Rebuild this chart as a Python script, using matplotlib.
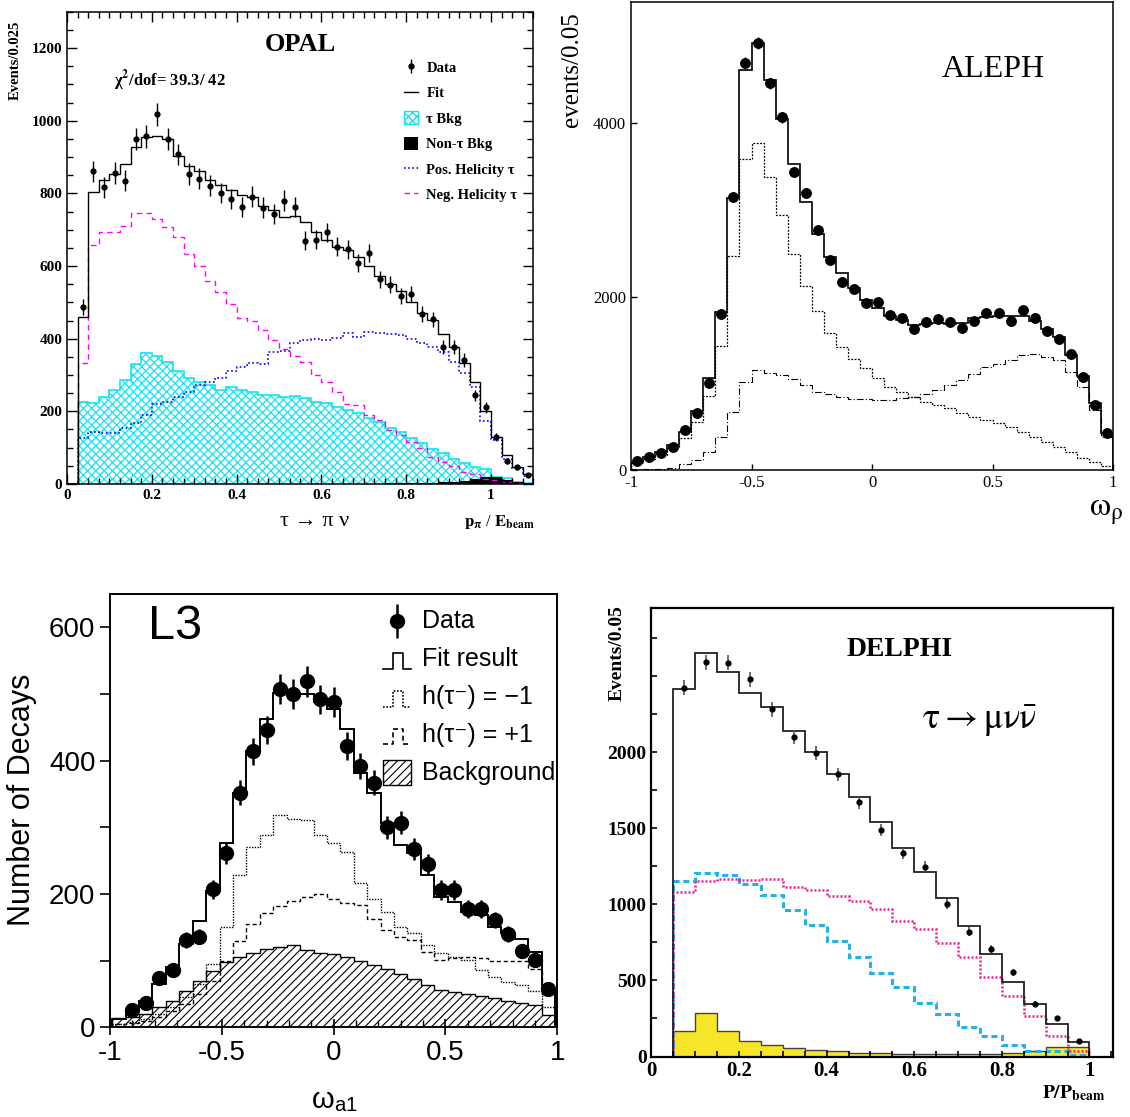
"""Four-panel tau polarisation summary: OPAL, ALEPH, L3 and DELPHI spectra."""
import numpy as np
import matplotlib

matplotlib.use("Agg")
import matplotlib.pyplot as plt  # noqa: E402
from matplotlib.lines import Line2D  # noqa: E402
from matplotlib.patches import Patch, Rectangle  # noqa: E402
from matplotlib.ticker import MultipleLocator  # noqa: E402

SERIF = ["Liberation Serif", "DejaVu Serif"]
SANS = ["Liberation Sans", "DejaVu Sans"]
plt.rcParams["font.family"] = SERIF
plt.rcParams["mathtext.fontset"] = "stix"
plt.rcParams["axes.unicode_minus"] = False

# ---- OPAL: tau -> pi nu, 44 bins of 0.025 in p_pi/E_beam (0 .. 1.1)
opal_fit = [0, 460, 803, 837, 852, 880, 928, 954, 958, 950, 903, 875, 862, 838, 822,
            810, 795, 790, 765, 755, 735, 738, 722, 694, 672, 653, 644, 624, 600, 572,
            550, 532, 502, 471, 451, 413, 378, 332, 281, 202, 130, 79, 48, 28]
opal_pos = [0, 126, 144, 140, 141, 153, 167, 190, 220, 227, 240, 254, 272, 282, 291,
            312, 323, 334, 329, 364, 367, 387, 395, 398, 396, 401, 415, 404, 419, 415,
            412, 410, 398, 387, 378, 364, 337, 305, 268, 174, 121, 68, 43, 22]
opal_neg = [0, 332, 658, 694, 694, 710, 745, 745, 729, 708, 681, 632, 600, 560, 528,
            495, 458, 450, 424, 395, 371, 352, 337, 300, 282, 254, 220, 217, 190, 176,
            149, 135, 116, 98, 75, 61, 50, 34, 28, 15, 11, 5, 3, 1]
opal_tau_bkg = [0, 227, 222, 240, 259, 286, 329, 360, 352, 337, 312, 291, 282, 272, 260,
                268, 260, 254, 245, 245, 240, 242, 236, 227, 222, 213, 204, 195, 181, 172,
                153, 144, 126, 114, 95, 84, 68, 57, 46, 40, 20, 16, 6, 3]
opal_nontau = [4, 0, 0, 0, 0, 0, 0, 0, 0, 0, 0, 0, 0, 0, 0, 0, 0, 0, 0, 0, 0, 0,
               0, 0, 0, 0, 0, 0, 0, 1, 2, 2, 3, 3, 4, 5, 6, 9, 14, 20, 18, 10, 5, 3]
opal_data = [487, 861, 817, 856, 835, 950, 957, 1018, 950, 907, 853, 840, 821, 801, 784,
             762, 791, 761, 744, 780, 762, 670, 672, 693, 653, 646, 609, 635, 563, 548,
             517, 523, 468, 453, 376, 376, 341, 244, 211, 130, 64, 46, 24]

# ---- ALEPH: omega_rho, 40 bins of 0.05 (-1 .. 1)
aleph_fit = [96, 146, 211, 288, 442, 677, 1061, 1827, 3142, 4615, 4923, 4500, 4050, 3527,
             3088, 2723, 2454, 2277, 2096, 1961, 1865, 1777, 1731, 1673, 1685, 1692, 1685,
             1692, 1750, 1769, 1777, 1781, 1777, 1723, 1623, 1531, 1327, 1085, 777, 431]
aleph_neg = [80, 125, 175, 250, 373, 558, 854, 1435, 2469, 3584, 3769, 3384, 2942, 2488,
             2123, 1835, 1577, 1423, 1277, 1173, 1058, 961, 904, 846, 788, 750, 711, 654,
             615, 577, 538, 500, 442, 384, 327, 269, 211, 135, 96, 46]
aleph_pos = [8, 12, 15, 27, 65, 115, 211, 384, 669, 1019, 1154, 1123, 1096, 1046, 981,
             904, 877, 846, 823, 815, 808, 808, 827, 846, 877, 923, 981, 1038, 1108, 1185,
             1223, 1269, 1327, 1338, 1300, 1269, 1134, 961, 692, 384]
aleph_data = [104, 154, 200, 269, 458, 654, 1007, 1800, 3154, 4692, 4930, 4461, 4069, 3442,
              3200, 2769, 2423, 2173, 2085, 1923, 1935, 1788, 1750, 1623, 1711, 1742, 1704,
              1635, 1723, 1808, 1815, 1723, 1846, 1757, 1604, 1511, 1335, 1069, 750, 431]

# ---- L3: omega_a1, 33 bins of 0.06 (-0.99 .. 0.99); no data point in the first bin
l3_fit = [12, 25, 40, 65, 90, 125, 160, 205, 277, 352, 414, 462, 502, 500, 500, 488, 478,
          448, 381, 351, 306, 273, 261, 228, 196, 188, 173, 168, 151, 141, 133, 113, 56]
l3_neg = [5, 8, 12, 20, 30, 45, 65, 95, 150, 228, 271, 289, 318, 313, 311, 289, 277,
          263, 216, 193, 173, 151, 141, 123, 111, 106, 101, 86, 76, 68, 63, 55, 30]
l3_pos = [5, 7, 10, 16, 25, 35, 50, 70, 100, 130, 155, 172, 182, 190, 196, 200, 193,
          186, 184, 163, 146, 136, 131, 113, 101, 104, 106, 104, 100, 100, 100, 88, 50]
l3_bkg = [14, 16, 20, 30, 40, 55, 70, 85, 98, 106, 112, 118, 121, 123, 116, 112, 110,
          106, 100, 94, 88, 80, 72, 64, 56, 53, 50, 47, 44, 40, 37, 33, 18]
l3_data = [26, 37, 74, 86, 131, 136, 207, 261, 352, 414, 446, 507, 500, 519, 492, 488,
           422, 392, 367, 300, 307, 268, 245, 206, 206, 177, 177, 161, 140, 114, 101, 58]

# ---- DELPHI: tau -> mu nu nubar, 19 bins of 0.05 in P/P_beam (0.05 .. 1.0)
delphi_fit = [2414, 2651, 2530, 2388, 2300, 2140, 2000, 1857, 1704, 1544, 1369, 1215,
              1044, 858, 672, 492, 343, 214, 97]
delphi_neg = [1084, 1156, 1165, 1160, 1165, 1117, 1095, 1057, 1022, 968, 891, 838, 748,
              652, 525, 398, 268, 135, 38]
delphi_pos = [1154, 1204, 1193, 1132, 1062, 963, 865, 761, 652, 551, 455, 354, 277, 192,
              135, 76, 38, 38, 10]
delphi_bkg = [170, 288, 166, 100, 78, 56, 43, 38, 25, 21, 18, 16, 16, 16, 16, 21, 36, 64, 60]
delphi_data = [2425, 2592, 2589, 2480, 2283, 2103, 1997, 1855, 1671, 1490, 1336, 1248, 1001,
               820, 707, 554, 345, 251, 100]


def edges(lo, hi, step):
    return np.round(np.arange(lo, hi + step / 2, step), 4)


def centers(e):
    return (e[:-1] + e[1:]) / 2


fig = plt.figure(figsize=(11.3, 11.17), dpi=100)
ax1 = fig.add_axes([0.05929, 0.56670, 0.41274, 0.42283])
ax2 = fig.add_axes([0.55841, 0.57923, 0.42655, 0.41898])
ax3 = fig.add_axes([0.09735, 0.08031, 0.39584, 0.38791])
ax4 = fig.add_axes([0.57646, 0.05416, 0.40823, 0.40170])

# ------------------------------------------------------------------ OPAL
e1 = edges(0, 1.1, 0.025)
c1 = centers(e1)
cyan = "#12e4f2"
with plt.rc_context({"hatch.linewidth": 0.9}):
    ax1.stairs(opal_tau_bkg, e1, fill=True, facecolor="white", edgecolor=cyan,
               hatch="xxxx", lw=1.2)
ax1.stairs(opal_nontau, e1, fill=True, color="black", lw=0)
ax1.stairs(opal_pos, e1, color="#0000ff", ls=(0, (1, 1.5)), lw=1.2)
ax1.stairs(opal_neg, e1, color="#ff00ff", ls=(0, (4, 3)), lw=1.0)
ax1.stairs(opal_fit, e1, color="black", lw=1.0)
d1 = np.array(opal_data, float)
h_data = ax1.errorbar(c1[1:], d1, yerr=np.sqrt(d1), fmt="o", ms=3.5, color="black",
                      elinewidth=1.0, capsize=0)
ax1.set_xlim(0, 1.1)
ax1.set_ylim(0, 1300)
ax1.set_xticks([0, 0.2, 0.4, 0.6, 0.8, 1.0], ["0", "0.2", "0.4", "0.6", "0.8", "1"],
               fontweight="bold", fontsize=11)
ax1.set_yticks(range(0, 1201, 200), [str(v) for v in range(0, 1201, 200)],
               fontweight="bold", fontsize=11)
ax1.xaxis.set_minor_locator(MultipleLocator(0.025))
ax1.yaxis.set_minor_locator(MultipleLocator(50))
ax1.tick_params(which="both", direction="in", top=True, right=True, width=1)
ax1.tick_params(which="major", length=7)
ax1.tick_params(which="minor", length=4)
for s in ax1.spines.values():
    s.set_linewidth(1.1)
ax1.text(0.5, 0.93, "OPAL", transform=ax1.transAxes, ha="center", va="center",
         fontsize=19, fontweight="bold")
ax1.text(0.10, 0.855, r"χ$^{\mathbf{2}}$/dof= 39.3/ 42", transform=ax1.transAxes,
         ha="left", va="center", fontsize=12, fontweight="bold")
leg_handles = [h_data, Line2D([], [], color="black", lw=1),
               Patch(facecolor="white", edgecolor=cyan, hatch="xxxx"),
               Patch(facecolor="black"),
               Line2D([], [], color="#0000ff", ls=(0, (1, 1.5)), lw=1.2),
               Line2D([], [], color="#ff00ff", ls=(0, (4, 3)), lw=1.0)]
leg_labels = ["Data", "Fit", "τ Bkg", "Non-τ Bkg", "Pos. Helicity τ", "Neg. Helicity τ"]
ax1.legend(leg_handles, leg_labels, loc="upper left", bbox_to_anchor=(0.722, 0.897),
           borderaxespad=0, borderpad=0, frameon=False, handlelength=1.0,
           handleheight=1.0, handletextpad=0.55, labelspacing=0.75,
           prop={"family": SERIF, "weight": "bold", "size": 10.5})
fig.text(0.0133, 0.946, "Events/0.025", rotation=90, ha="center", va="center",
         fontsize=10.5, fontweight="bold")
fig.text(0.2788, 0.5327, "τ → π ν", ha="center", va="center", fontsize=16)
fig.text(0.4735, 0.5327, r"$\mathbf{p}_{\mathbf{\pi}}$ / $\mathbf{E}_{\mathbf{beam}}$",
         ha="right", va="center", fontsize=12)

# ------------------------------------------------------------------ ALEPH
e2 = edges(-1, 1, 0.05)
c2 = centers(e2)
ax2.stairs(aleph_pos, e2, color="black", ls=(0, (6, 2, 1, 2)), lw=0.8)
ax2.stairs(aleph_neg, e2, color="black", ls=(0, (1.5, 1.2)), lw=0.9)
ax2.stairs(aleph_fit, e2, color="black", lw=1.2)
d2 = np.array(aleph_data, float)
ax2.errorbar(c2, d2, yerr=np.sqrt(d2), fmt="o", ms=6.8, color="black",
             elinewidth=1.0, capsize=0)
ax2.set_xlim(-1, 1)
ax2.set_ylim(0, 5400)
ax2.set_xticks([-1, -0.5, 0, 0.5, 1], ["-1", "-0.5", "0", "0.5", "1"], fontsize=12)
ax2.set_yticks([0, 2000, 4000], ["0", "2000", "4000"], fontsize=12)
ax2.tick_params(direction="in", length=4, width=1)
for s in ax2.spines.values():
    s.set_linewidth(1.1)
ax2.text(0.751, 0.855, "ALEPH", transform=ax2.transAxes, ha="center", va="center",
         fontsize=23)
fig.text(0.5062, 0.938, "events/0.05", rotation=90, ha="center", va="center", fontsize=18)
fig.text(0.979, 0.5416, r"$\mathrm{\omega}_{\mathrm{\rho}}$", ha="center", va="center",
         fontsize=24)

# ------------------------------------------------------------------ L3
e3 = edges(-0.99, 0.99, 0.06)
c3 = centers(e3)
with plt.rc_context({"hatch.linewidth": 0.8}):
    ax3.stairs(l3_bkg, e3, fill=True, facecolor="white", edgecolor="black",
               hatch="////", lw=1.0)
ax3.stairs(l3_pos, e3, color="black", ls=(0, (3, 2)), lw=1.0)
ax3.stairs(l3_neg, e3, color="black", ls=(0, (1, 1)), lw=1.0)
ax3.stairs(l3_fit, e3, color="black", lw=1.4)
d3 = np.array(l3_data, float)
ax3.errorbar(c3[1:], d3, yerr=np.sqrt(d3), fmt="o", ms=10, color="black",
             elinewidth=1.8, capsize=0)
ax3.set_xlim(-1, 1)
ax3.set_ylim(0, 650)
ax3.set_xticks([-1, -0.5, 0, 0.5, 1], ["-1", "-0.5", "0", "0.5", "1"],
               fontsize=20, family=SANS)
ax3.set_yticks([0, 200, 400, 600], ["0", "200", "400", "600"], fontsize=20, family=SANS)
ax3.xaxis.set_minor_locator(MultipleLocator(0.1))
ax3.yaxis.set_minor_locator(MultipleLocator(100))
ax3.tick_params(axis="x", which="major", direction="inout", length=12, width=1.2)
ax3.tick_params(axis="x", which="minor", direction="in", length=5, width=1.0)
ax3.tick_params(axis="y", which="both", direction="out", length=7, width=1.2)
for s in ax3.spines.values():
    s.set_linewidth(1.4)
ax3.text(0.145, 0.924, "L3", transform=ax3.transAxes, ha="center", va="center",
         fontsize=35, family=SANS)
fig.text(0.0195, 0.2838, "Number of Decays", rotation=90, ha="center", va="center",
         fontsize=22, family=SANS)
fig.text(0.2956, 0.0152, r"ω$_{\mathregular{a1}}$", ha="center", va="center",
         fontsize=21, family=SANS)

# L3 legend drawn by hand (pulse-shaped glyphs as in the original)
tA = ax3.transAxes
rows = [0.938, 0.850, 0.762, 0.675, 0.587]
ax3.errorbar([0.6417], [rows[0]], yerr=[0.04], fmt="o", ms=10, color="black",
             elinewidth=1.8, capsize=0, transform=tA, clip_on=False)
for yc, ls in zip(rows[1:4], ["-", (0, (1, 1)), (0, (3, 2))]):
    xs = [0.611, 0.633, 0.633, 0.656, 0.656, 0.674]
    ys = [yc - 0.022, yc - 0.022, yc + 0.014, yc + 0.014, yc - 0.022, yc - 0.022]
    ax3.plot(xs, ys, transform=tA, color="black", ls=ls, lw=1.2, clip_on=False)
with plt.rc_context({"hatch.linewidth": 0.8}):
    ax3.add_patch(Rectangle((0.611, rows[4] - 0.027), 0.063, 0.056, transform=tA,
                            facecolor="white", edgecolor="black", hatch="////", lw=1.0))
for yc, lab in zip(rows, ["Data", "Fit result", "h(τ⁻) = −1", "h(τ⁻) = +1",
                          "Background"]):
    ax3.text(0.6975, yc, lab, transform=tA, ha="left", va="center", fontsize=18,
             family=SANS)

# ------------------------------------------------------------------ DELPHI
e4 = edges(0.05, 1.0, 0.05)
c4 = centers(e4)
ax4.stairs(delphi_bkg, e4, fill=True, facecolor="#f7e627", edgecolor="#444444", lw=1.0)
ax4.stairs(delphi_pos, e4, color="#1fb4e6", ls=(0, (2, 1.2)), lw=2.2)
ax4.stairs(delphi_neg, e4, color="#e8228c", ls=(0, (0.8, 0.8)), lw=1.8)
ax4.stairs(delphi_fit, e4, color="#222222", lw=1.3)
d4 = np.array(delphi_data, float)
ax4.errorbar(c4, d4, yerr=np.sqrt(d4), fmt="o", ms=3.5, color="black", ecolor="#555555",
             elinewidth=1.2, capsize=0)
ax4.set_xlim(0, 1.053)
ax4.set_ylim(0, 2950)
ax4.set_xticks([0, 0.2, 0.4, 0.6, 0.8, 1.0], ["0", "0.2", "0.4", "0.6", "0.8", "1"],
               fontweight="bold", fontsize=15)
ax4.set_yticks([0, 500, 1000, 1500, 2000], ["0", "500", "1000", "1500", "2000"],
               fontweight="bold", fontsize=14)
ax4.xaxis.set_minor_locator(MultipleLocator(0.05))
ax4.yaxis.set_minor_locator(MultipleLocator(250))
ax4.tick_params(which="both", direction="in", length=4, width=1.2)
for s in ax4.spines.values():
    s.set_linewidth(1.6)
ax4.text(0.539, 0.908, "DELPHI", transform=ax4.transAxes, ha="center", va="center",
         fontsize=20, fontweight="bold")
ax4.text(0.712, 0.748, r"$\mathrm{\tau \rightarrow \mu\nu\bar{\nu}}$",
         transform=ax4.transAxes, ha="center", va="center", fontsize=26)
fig.text(0.546, 0.4154, "Events/0.05", rotation=90, ha="center", va="center",
         fontsize=14, fontweight="bold")
fig.text(0.978, 0.0215, r"$\mathbf{P/P}_{\mathbf{beam}}$", ha="right", va="center",
         fontsize=14)

fig.savefig("out.png", dpi=100, facecolor="white")
plt.close(fig)
